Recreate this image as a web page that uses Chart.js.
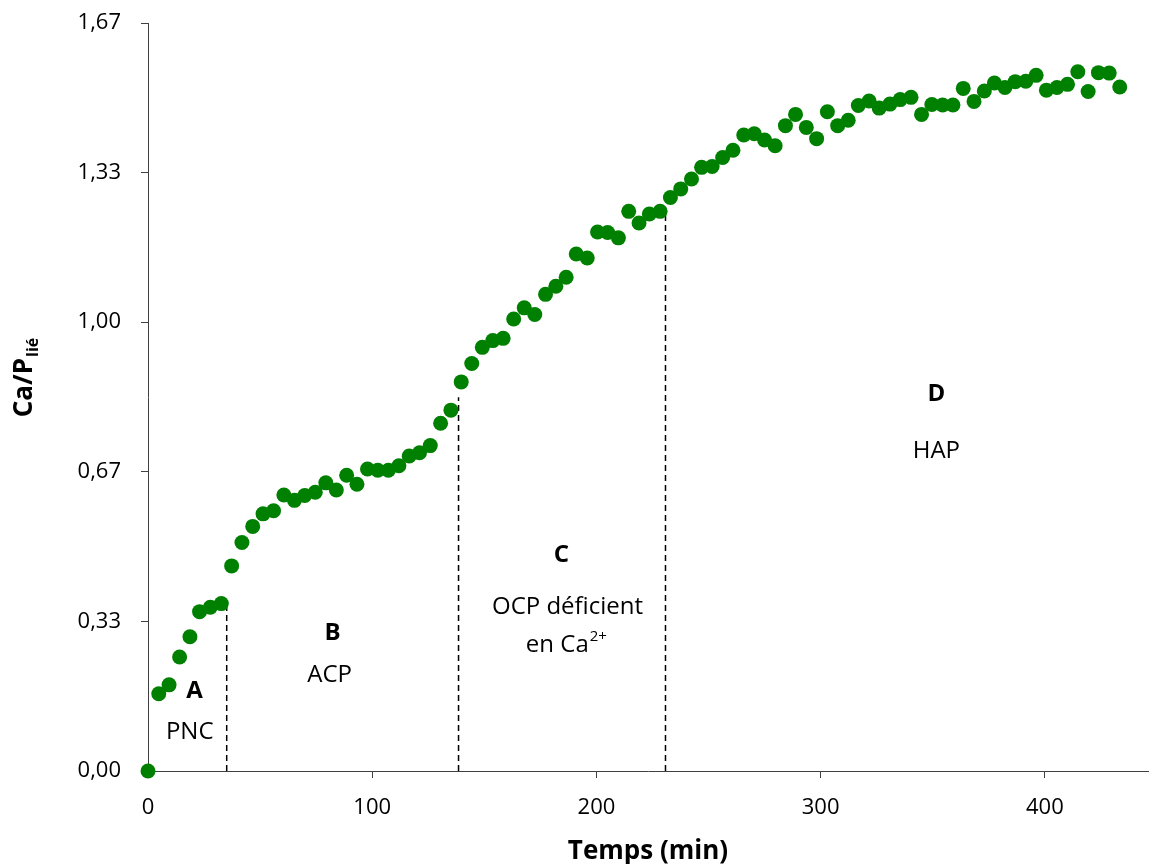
<!DOCTYPE html>
<html>
<head>
<meta charset="utf-8">
<script src="https://cdn.jsdelivr.net/npm/chart.js@4.4.1/dist/chart.umd.min.js"></script>
<style>
  html, body { margin: 0; padding: 0; background: #fff; }
  #wrap { width: 1149px; height: 864px; }
</style>
</head>
<body>
<div id="wrap"><canvas id="chart" width="1149" height="864"></canvas></div>
<script>
// ---- data ----
const timeMin = [
  0, 4.8, 9.4, 14.1, 18.7, 23.0, 27.8, 32.7, 37.3, 41.9,
  46.7, 51.3, 56.0, 60.6, 65.3, 69.9, 74.6, 79.3, 84.0, 88.6,
  93.2, 97.9, 102.5, 107.2, 111.9, 116.5, 121.1, 125.9, 130.5, 135.1,
  139.7, 144.4, 149.1, 153.8, 158.4, 163.1, 167.8, 172.5, 177.3, 181.9,
  186.5, 191.0, 195.9, 200.5, 205.0, 209.8, 214.4, 219.0, 223.6, 228.4,
  233.0, 237.6, 242.4, 246.9, 251.6, 256.3, 260.9, 265.7, 270.4, 275.0,
  279.7, 284.3, 288.8, 293.6, 298.2, 303.0, 307.6, 312.3, 316.8, 321.6,
  326.1, 330.9, 335.5, 340.3, 345.0, 349.6, 354.4, 359.0, 363.6, 368.4,
  373.0, 377.5, 382.2, 386.8, 391.5, 396.1, 400.7, 405.4, 410.1, 414.7,
  419.3, 423.9, 428.7, 433.4
];
const caP = [
  0, 0.172, 0.192, 0.254, 0.299, 0.355, 0.365, 0.373, 0.457, 0.509,
  0.545, 0.573, 0.580, 0.615, 0.603, 0.614, 0.621, 0.642, 0.626, 0.659,
  0.639, 0.673, 0.670, 0.670, 0.680, 0.702, 0.709, 0.725, 0.775, 0.804,
  0.867, 0.908, 0.944, 0.959, 0.964, 1.007, 1.032, 1.017, 1.062, 1.080,
  1.100, 1.152, 1.143, 1.201, 1.200, 1.188, 1.247, 1.221, 1.241, 1.247,
  1.278, 1.297, 1.319, 1.345, 1.347, 1.367, 1.383, 1.417, 1.420, 1.406,
  1.393, 1.438, 1.463, 1.434, 1.409, 1.469, 1.438, 1.450, 1.483, 1.493,
  1.477, 1.486, 1.496, 1.501, 1.463, 1.485, 1.484, 1.484, 1.521, 1.492,
  1.515, 1.533, 1.523, 1.536, 1.537, 1.550, 1.517, 1.523, 1.530, 1.558,
  1.514, 1.556, 1.555, 1.524
];

// phase boundaries (dashed lines): time and height reached
const phaseX = [35.1, 138.5, 230.8];
const phaseTop = [0.369, 0.833, 1.256];

const xTicks = [0, 100, 200, 300, 400];
const yTicks = [0, 1 / 3, 2 / 3, 1, 4 / 3, 5 / 3];

// phase labels, anchored in data units
const phaseNotes = [
  { text: "A", bold: true, x: 20.8, y: 0.178 },
  { text: "PNC", x: 18.6, y: 0.086 },
  { text: "B", bold: true, x: 82.3, y: 0.307 },
  { text: "ACP", x: 81.0, y: 0.213 },
  { text: "C", bold: true, x: 184.4, y: 0.481 },
  { text: "OCP déficient", x: 187.1, y: 0.365 },
  { text: "en Ca", sup: "2+", x: 186.6, y: 0.280 },
  { text: "D", bold: true, x: 351.6, y: 0.840 },
  { text: "HAP", x: 351.6, y: 0.713 }
];

const FONT = "'Open Sans', 'Noto Sans', sans-serif";
const GREEN = "#008000";
const AXIS = "#404040";

// ---- datasets ----
const points = timeMin.map((t, i) => ({ x: t, y: caP[i] }));

const dashed = phaseX.map((x, i) => ({
  data: [{ x: x, y: 0 }, { x: x, y: phaseTop[i] }],
  showLine: true,
  borderColor: "#000",
  borderWidth: 1.5,
  borderDash: [6, 4],
  pointRadius: 0,
  pointHoverRadius: 0
}));

// keep the plot box where the reference has it
function noPad(s) {
  s.paddingTop = 0;
  s.paddingBottom = 0;
  s.paddingLeft = 0;
  s.paddingRight = 0;
}

// ---- custom text: phase labels + y title with subscript ----
const textPlugin = {
  id: "texts",
  afterDatasetsDraw(chart) {
    const { ctx, scales } = chart;
    ctx.save();
    ctx.fillStyle = "#000";
    ctx.textBaseline = "middle";

    phaseNotes.forEach(n => {
      const px = scales.x.getPixelForValue(n.x);
      const py = scales.y.getPixelForValue(n.y);
      const mainFont = (n.bold ? "bold " : "") + "24px " + FONT;
      ctx.font = mainFont;
      const w1 = ctx.measureText(n.text).width;
      let w2 = 0;
      if (n.sup) {
        ctx.font = "15px " + FONT;
        w2 = ctx.measureText(n.sup).width + 1;
      }
      const start = px - (w1 + w2) / 2;
      ctx.textAlign = "left";
      ctx.font = mainFont;
      ctx.fillText(n.text, start, py);
      if (n.sup) {
        ctx.font = "15px " + FONT;
        ctx.fillText(n.sup, start + w1 + 1, py - 9);
      }
    });

    // y axis title: Ca/P with subscript "lié"
    ctx.translate(32, 378);
    ctx.rotate(-Math.PI / 2);
    ctx.textBaseline = "alphabetic";
    ctx.textAlign = "left";
    const mainF = "bold 26px " + FONT;
    const subF = "bold 16px " + FONT;
    ctx.font = mainF;
    const wm = ctx.measureText("Ca/P").width;
    ctx.font = subF;
    const ws = ctx.measureText("lié").width;
    const x0 = -(wm + ws) / 2;
    ctx.font = mainF;
    ctx.fillText("Ca/P", x0, 0);
    ctx.font = subF;
    ctx.fillText("lié", x0 + wm + 1, 6);
    ctx.restore();
  }
};

// ---- chart ----
new Chart(document.getElementById("chart"), {
  type: "scatter",
  data: {
    datasets: [
      {
        data: points,
        backgroundColor: GREEN,
        borderColor: GREEN,
        pointRadius: 7.5,
        pointHoverRadius: 7.5,
        borderWidth: 0,
        clip: false
      },
      ...dashed
    ]
  },
  options: {
    responsive: false,
    animation: false,
    layout: { autoPadding: false, padding: { top: 23, right: 1, left: 0, bottom: 0 } },
    plugins: {
      legend: { display: false },
      tooltip: { enabled: false }
    },
    scales: {
      x: {
        type: "linear",
        min: 0,
        max: 446,
        afterBuildTicks: s => { s.ticks = xTicks.map(v => ({ value: v })); },
        afterFit: s => { s.height = 93; noPad(s); },
        grid: { drawOnChartArea: false, drawTicks: true, tickLength: 7, color: AXIS },
        border: { display: true, color: AXIS, width: 1 },
        ticks: {
          color: "#000",
          font: { family: FONT, size: 22 },
          padding: 17,
          maxRotation: 0
        },
        title: {
          display: true,
          text: "Temps (min)",
          color: "#000",
          font: { family: FONT, size: 26, weight: "bold" },
          padding: { top: 0, bottom: -3 }
        }
      },
      y: {
        type: "linear",
        min: 0,
        max: 5 / 3,
        afterBuildTicks: s => { s.ticks = yTicks.map(v => ({ value: v })); },
        afterFit: s => { s.width = 148; noPad(s); },
        grid: { drawOnChartArea: false, drawTicks: true, tickLength: 7, color: AXIS },
        border: { display: true, color: AXIS, width: 1 },
        ticks: {
          color: "#000",
          font: { family: FONT, size: 22 },
          padding: 20,
          callback: v => v.toFixed(2).replace(".", ",")
        }
      }
    }
  },
  plugins: [textPlugin]
});
</script>
</body>
</html>
